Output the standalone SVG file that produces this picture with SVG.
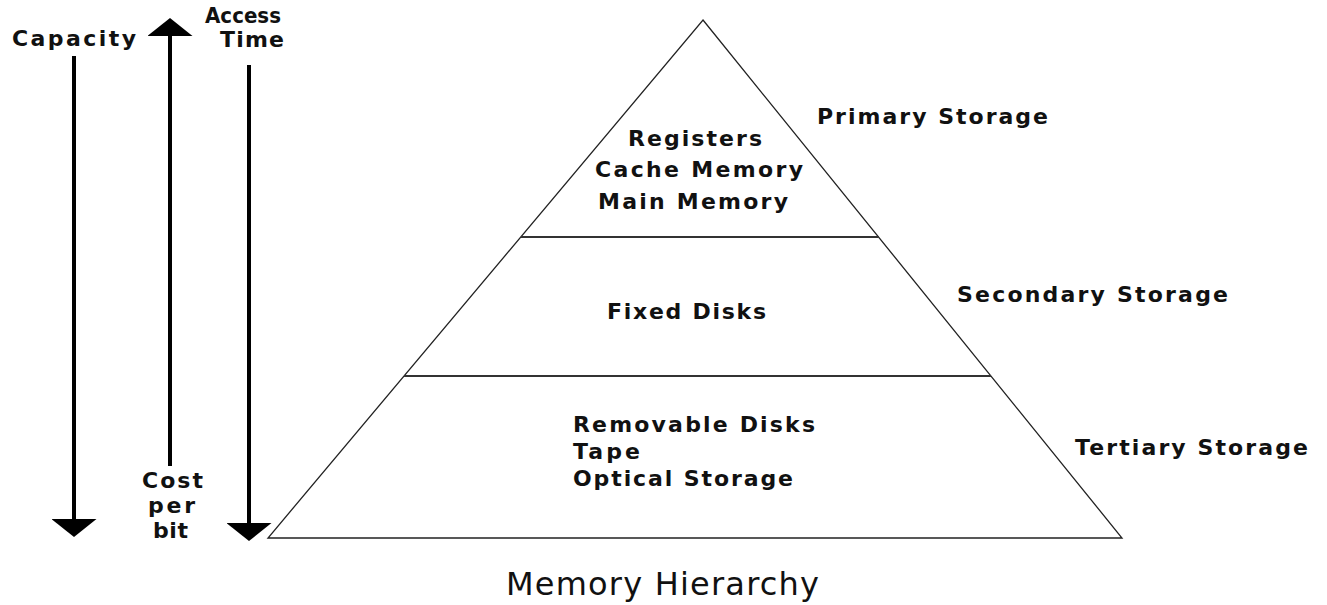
<svg xmlns="http://www.w3.org/2000/svg" width="1327" height="605" viewBox="0 0 1327 605">
  <style>
    .lbl { font-family: "DejaVu Sans", Verdana, sans-serif; font-weight: bold; font-size: 22px; fill: #111; }
    .title { font-family: "DejaVu Sans", Verdana, sans-serif; font-weight: normal; font-size: 32px; fill: #111; }
    .shaft { stroke: #000; stroke-width: 4; fill: none; }
    .edge { stroke: #222; stroke-width: 1.3; fill: none; }
    .sep { stroke: #333; stroke-width: 2; fill: none; }
  </style>
  <defs>
    <marker id="head" viewBox="0 0 18 45" refX="0" refY="22.5" markerWidth="18" markerHeight="45" orient="auto" markerUnits="userSpaceOnUse">
      <path d="M0,0 L18,22.5 L0,45 Z" fill="#000"/>
    </marker>
  </defs>
  <rect width="1327" height="605" fill="#fff"/>

  <g id="connectors">
    <line class="shaft" x1="74" y1="56" x2="74" y2="519" marker-end="url(#head)"/>
    <line class="shaft" x1="170" y1="466" x2="170" y2="36" marker-end="url(#head)"/>
    <line class="shaft" x1="249" y1="65" x2="249" y2="523" marker-end="url(#head)"/>
  </g>

  <g id="axis-capacity">
    <text class="lbl" x="12" y="46" textLength="124" lengthAdjust="spacing">Capacity</text>
  </g>
  <g id="axis-access-time">
    <text class="lbl" x="205" y="23" textLength="76" lengthAdjust="spacingAndGlyphs">Access</text>
    <text class="lbl" x="220" y="47" textLength="64" lengthAdjust="spacing">Time</text>
  </g>
  <g id="axis-cost">
    <text class="lbl" x="142" y="488" textLength="61" lengthAdjust="spacing">Cost</text>
    <text class="lbl" x="148" y="513" textLength="47" lengthAdjust="spacing">per</text>
    <text class="lbl" x="153" y="538" textLength="35" lengthAdjust="spacing">bit</text>
  </g>

  <g id="pyramid">
    <polygon class="edge" points="703,20 1122,538 268,538"/>
    <line class="sep" x1="521" y1="237" x2="879" y2="237"/>
    <line class="sep" x1="404" y1="376" x2="991" y2="376"/>
  </g>

  <g id="tier-primary">
    <text class="lbl" x="628" y="146" textLength="134" lengthAdjust="spacing">Registers</text>
    <text class="lbl" x="595" y="177" textLength="208" lengthAdjust="spacing">Cache Memory</text>
    <text class="lbl" x="598" y="209" textLength="190" lengthAdjust="spacing">Main Memory</text>
    <text class="lbl" x="817" y="124" textLength="231" lengthAdjust="spacing">Primary Storage</text>
  </g>
  <g id="tier-secondary">
    <text class="lbl" x="607" y="319" textLength="159" lengthAdjust="spacing">Fixed Disks</text>
    <text class="lbl" x="957" y="302" textLength="271" lengthAdjust="spacing">Secondary Storage</text>
  </g>
  <g id="tier-tertiary">
    <text class="lbl" x="573" y="432" textLength="242" lengthAdjust="spacing">Removable Disks</text>
    <text class="lbl" x="573" y="459" textLength="67" lengthAdjust="spacing">Tape</text>
    <text class="lbl" x="573" y="486" textLength="220" lengthAdjust="spacing">Optical Storage</text>
    <text class="lbl" x="1075" y="455" textLength="233" lengthAdjust="spacing">Tertiary Storage</text>
  </g>

  <g id="caption">
    <text class="title" x="506" y="595" textLength="313" lengthAdjust="spacing">Memory Hierarchy</text>
  </g>
</svg>
